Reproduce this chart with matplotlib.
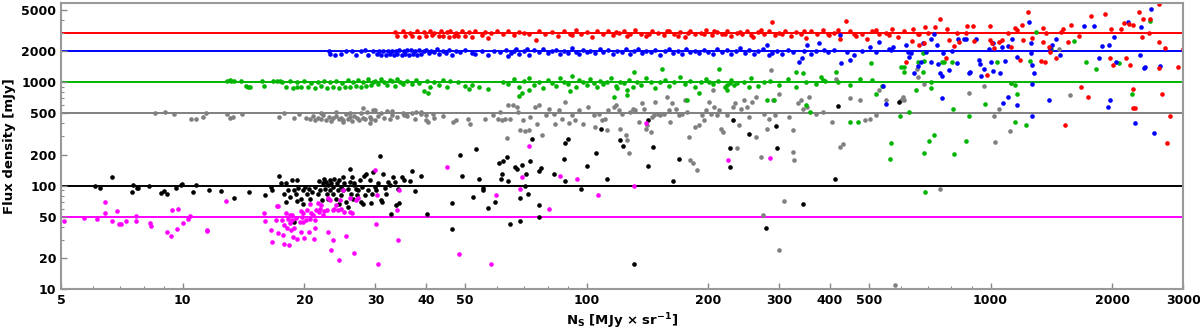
import matplotlib
matplotlib.use('Agg')
import matplotlib.pyplot as plt
import numpy as np
from matplotlib.ticker import FixedLocator, NullFormatter, LogLocator

plt.rcParams['font.family'] = 'DejaVu Sans'
plt.rcParams['font.weight'] = 'bold'

# reference flux levels and colours
levels = [3000, 2000, 1000, 500, 100, 50]
colors = ['#ff0000', '#0000ff', '#00b400', '#808080', '#000000', '#ff00ff']

x_ticks = [5, 10, 20, 30, 40, 50, 100, 200, 300, 400, 500, 1000, 2000, 3000]
y_ticks = [10, 20, 50, 100, 200, 500, 1000, 2000, 5000]

red_pts = [
    (33.5, 3050), (34, 2800), (35, 3100), (35.5, 2780), (36.5, 3000), (37, 2820), (38, 3120), (38.5, 2760),
    (39.5, 3050), (40, 2800), (41, 3150), (41.5, 2850), (42, 3000), (43, 2780), (43.5, 3100), (44, 2820),
    (45, 3050), (45.5, 2760), (46, 3150), (47, 2830), (47.5, 3000), (48, 2790), (49, 3100), (50, 2820),
    (51, 3050), (52, 2750), (53, 3150), (55, 2880), (56, 3050), (57, 2700), (58, 3000), (60, 3100),
    (62, 2950), (64, 3100), (66, 2850), (68, 3050), (70, 3000), (72, 2900), (75, 2550), (76, 3150),
    (79, 2950), (82, 3050), (85, 2800), (88, 3100), (91, 2950), (92, 2850), (94, 3200), (97, 2900),
    (100, 3050), (103, 2750), (106, 3100), (110, 2950), (113, 3150), (116, 2850), (118, 3050), (120, 3000),
    (124, 3100), (126, 2800), (128, 2900), (132, 3200), (136, 2950), (140, 2800), (143, 2950), (145, 3100),
    (150, 3000), (155, 2850), (158, 3100), (160, 3150), (165, 2950), (168, 2800), (170, 3050), (175, 2750),
    (178, 3000), (180, 3100), (186, 2900), (192, 3000), (195, 2900), (198, 3200), (204, 2850), (207, 3150),
    (210, 3050), (216, 2950), (220, 2950), (222, 3100), (228, 2800), (235, 3000), (240, 3050), (242, 2900),
    (250, 3150), (255, 2850), (258, 2750), (266, 3050), (270, 3200), (275, 2950), (283, 3100), (287, 3800),
    (292, 2850), (300, 3000), (305, 2950), (310, 3150), (320, 2800), (330, 3050), (340, 2900), (345, 3150),
    (350, 2700), (360, 3100), (372, 2950), (385, 3200), (395, 2950), (398, 2850), (410, 3000), (420, 3200),
    (425, 2650), (438, 3900), (450, 3100), (460, 2950), (465, 2800), (480, 2950), (495, 2600), (510, 3150),
    (520, 3200), (530, 2900), (550, 3000), (560, 2850), (570, 3300), (590, 2750), (610, 3100), (640, 2500),
    (665, 2900), (690, 3400),
    (643, 3305), (661, 2935), (667, 2300), (686, 2385), (618, 1585), (699, 2980), (729, 3455), (749, 4095),
    (782, 3305), (775, 1705), (789, 2565), (812, 2245), (828, 2980), (836, 2475), (868, 2980), (876, 3505),
    (906, 3505), (909, 2530), (980, 1178), (998, 2565), (998, 3530), (1018, 2165), (1008, 2385), (1048, 2475),
    (1067, 2565), (1104, 2980), (1125, 2215), (1150, 3325), (1161, 3205), (1183, 1645), (1194, 3585),
    (1205, 2565), (1236, 4755), (1264, 2665), (1333, 1620), (1349, 3325), (1349, 2475), (1362, 1585),
    (1375, 3020), (1393, 2215), (1402, 1980), (1455, 1705), (1497, 3090), (1511, 3255), (1525, 386),
    (1555, 2475), (1578, 3610), (1660, 2805), (1671, 894), (1742, 727), (1775, 4390), (1919, 4550),
    (1977, 1705), (1986, 3305), (2011, 1470), (2099, 3255), (2138, 3720), (2163, 1705), (2203, 3665),
    (2213, 1470), (2250, 3610), (2250, 855), (2250, 568), (2275, 560), (2328, 4755), (2372, 2725),
    (2388, 4095), (2466, 2980), (2489, 4095), (2606, 5730), (2606, 2435), (2710, 2165), (2606, 1385),
    (2655, 776), (2735, 257), (2786, 475), (2911, 1417), (2992, 2085),
]

blue_pts = [
    (23.0, 2020), (23.2, 1880), (23.8, 1850), (24.6, 1860), (25.4, 2000), (26.2, 2010), (26.8, 1850),
    (27.6, 1990), (28.3, 2030), (28.8, 1850), (29.5, 2000), (30.2, 1860), (30.6, 2010),
    (31.0, 1850), (31.4, 2000), (31.8, 1840), (32.2, 1990), (32.6, 1860), (33.0, 2020), (33.3, 1850),
    (33.7, 2000), (34.0, 1870), (34.4, 2050), (34.8, 1840), (35.2, 1990), (35.6, 1860), (36.0, 2030),
    (36.4, 1850), (36.8, 2070), (37.2, 1880), (37.6, 2000), (38.0, 1850), (38.5, 2050), (39.0, 1870),
    (39.5, 1990), (40.0, 2060), (40.6, 1900), (41.2, 2020), (41.8, 1950), (42.5, 2080), (43.2, 1880),
    (44.0, 2000), (44.8, 1930), (45.5, 2040),
    (46.5, 1850), (47.5, 2000), (48.5, 1980), (50, 2050), (52, 1900), (53, 1870), (55, 2020), (57, 1850),
    (59, 2000), (61, 1960), (63, 2050), (64, 1780), (65, 1920), (66, 2020), (67, 2080), (68, 1880),
    (70, 1990), (71, 2100), (72, 1850), (74, 2030), (76, 1950), (78, 2120), (80, 1900), (82, 2000),
    (84, 2060), (86, 1870), (88, 2010), (90, 1940), (92, 2150), (94, 1980), (96, 1880), (98, 2050),
    (100, 1950), (102, 2020), (105, 1900), (108, 2100), (110, 1970),
    (113, 2040), (116, 1880), (119, 2000), (122, 1950), (125, 2080), (128, 1860), (131, 2000), (134, 2120),
    (137, 1900), (140, 2020), (144, 1960), (148, 2050), (152, 1850), (156, 2000), (160, 2080), (164, 1920),
    (168, 2020), (172, 1870), (176, 2100), (180, 1960), (185, 2000), (190, 1900), (195, 2060), (200, 1980),
    (205, 1870), (210, 2120), (216, 1950), (222, 2030), (228, 1880), (234, 2000), (240, 2150), (246, 1920),
    (252, 2040), (259, 1860), (266, 2000), (273, 2080), (288, 1930), (296, 2010), (305, 1890), (315, 2050),
    (325, 1960), (345, 2000), (360, 1880), (370, 2000), (395, 1950), (410, 2030), (440, 1980), (460, 1850),
    (480, 2000), (520, 1950), (560, 2100),
    (280, 2286), (283, 1831), (336, 1577), (341, 1700), (351, 2286), (377, 2385), (388, 2074), (423, 2860),
    (427, 1521), (448, 1637), (502, 2203), (531, 2463), (550, 614), (542, 917), (568, 2046), (573, 2203),
    (616, 2300), (624, 1980), (636, 1905), (630, 1770), (648, 1222), (661, 1438), (673, 1585), (679, 2385),
    (692, 1980), (711, 2605), (711, 1585), (726, 2935), (739, 2300), (743, 1493), (749, 1240), (757, 1150),
    (763, 1905), (760, 710), (789, 1315), (805, 2010), (824, 1550), (832, 2605), (859, 2605), (868, 2605),
    (884, 1222), (892, 1268), (918, 2625), (935, 1645), (944, 1493), (949, 1150), (962, 1335), (989, 2085),
    (1004, 1585), (1012, 2418), (1012, 1297), (1057, 1240), (1067, 2215), (1071, 636), (1086, 1620),
    (1107, 727), (1107, 2245), (1132, 2605), (1161, 603), (1161, 1745), (1247, 3805), (1259, 1935),
    (1259, 2385), (1264, 1470), (1264, 962), (1268, 472), (1283, 1240), (1393, 675), (1402, 2085),
    (1416, 2300), (1455, 2605), (1483, 1835), (1708, 3530), (1800, 3530), (1858, 1735), (1888, 2245),
    (1950, 573), (1968, 2300), (1975, 675), (2023, 2765), (2042, 1585), (2193, 3865), (2276, 401),
    (2350, 1835), (2360, 3405), (2395, 1365), (2417, 1417), (2495, 5080), (2547, 321), (2622, 1438),
]

green_pts = [
    (12.9, 1038), (13.1, 1047), (13.2, 1038), (13.4, 1026), (13.9, 1026), (14.3, 916), (14.5, 900),
    (14.7, 908), (15.7, 1034), (15.9, 916), (16.7, 1026), (17.1, 1026), (17.4, 1026), (19.2, 908),
    (17.6, 1000), (18.0, 900), (18.4, 1020), (18.8, 890), (19.2, 1000), (19.6, 910), (20.0, 1030),
    (20.4, 900), (20.8, 990), (21.2, 880), (21.6, 1010), (22.0, 920), (22.4, 1040), (22.8, 890),
    (23.2, 1000), (23.6, 900), (24.0, 1020), (24.4, 880), (24.8, 990), (25.2, 910), (25.6, 1050),
    (26.0, 900), (26.4, 1000), (26.8, 920), (27.2, 1060), (27.6, 900), (28.0, 1010), (28.4, 930),
    (28.8, 1070), (29.2, 950), (29.6, 1000), (30.0, 1040), (30.5, 960), (31.0, 1080), (31.5, 1000),
    (32.0, 950), (32.5, 1050), (33.0, 1020), (33.5, 930), (34.0, 1080), (34.5, 1000), (35.0, 970),
    (36.0, 1040), (37.0, 960), (37.8, 1060), (38.5, 980), (39.5, 820), (40.2, 1030), (40.5, 780),
    (41, 910), (42, 1000), (43, 940), (44, 1060), (45, 900), (46, 1020), (48, 1000), (50, 930),
    (51, 870), (52, 950), (54, 900), (57, 870),
    (62, 1000), (64, 960), (66, 1080), (68, 900), (68, 730), (69, 780), (70, 1020), (72, 1100),
    (72, 840), (74, 950), (76, 1000), (78, 880), (80, 1050), (82, 990), (84, 920), (86, 1100),
    (88, 1000), (90, 960), (91, 826), (92, 1150), (94, 900), (96, 1050), (98, 1000), (100, 940),
    (102, 1080), (104, 980), (106, 900), (108, 1030), (110, 960), (112, 1000), (115, 1100), (118, 920),
    (121, 1010), (124, 980), (127, 1060), (130, 900), (133, 1000), (136, 950), (140, 1090), (144, 1010),
    (148, 880), (152, 1000), (156, 1050), (160, 930), (165, 1000), (170, 1120), (175, 970), (180, 1040),
    (186, 900), (192, 1000), (198, 1080), (205, 960), (212, 1020), (220, 900), (228, 1060), (236, 980),
    (245, 1000), (255, 1100), (265, 930), (275, 1000), (285, 1040), (300, 950), (315, 1080), (330, 900),
    (350, 1000), (370, 960), (390, 1020), (420, 1000), (450, 950),
    (117, 723), (119, 871), (126, 840), (126, 750), (131, 1262), (154, 1330), (177, 681), (190, 791),
    (201, 1010), (213, 1359), (223, 938), (222, 840), (227, 988), (232, 938), (252, 903), (280, 681),
    (291, 681), (330, 1262), (343, 1217), (349, 600), (357, 518), (380, 1113), (384, 1049), (415, 1262),
    (448, 414), (469, 414), (474, 1088), (507, 1521), (509, 1064), (521, 779), (539, 917), (565, 183),
    (568, 259), (601, 1413), (598, 474),
    (612, 1417), (610, 1268), (630, 520), (655, 842), (661, 1585), (679, 1905), (683, 1607), (679, 1268),
    (686, 206), (690, 86), (703, 272), (711, 1013), (711, 888), (726, 309), (760, 1585), (767, 1585),
    (805, 1585), (807, 547), (812, 201), (868, 268), (884, 472), (971, 617), (1037, 1560), (1125, 977),
    (1150, 942), (1161, 764), (1150, 410), (1222, 386), (1254, 1607), (1294, 3043), (1410, 2100),
    (1614, 2530), (1723, 1585), (1824, 1335), (2080, 1525), (2244, 776), (2489, 3945),
]

gray_pts = [
    (8.53, 506), (9.05, 517), (9.5, 499), (10.5, 446), (10.8, 446), (11.2, 462), (11.4, 506), (12.9, 499),
    (13.1, 456), (13.3, 462), (14.0, 491), (17.3, 462), (17.8, 506), (18.9, 456), (19.4, 499),
    (20.2, 455), (20.6, 440), (21, 470), (21.3, 430), (21.6, 455), (22, 445), (22.3, 480), (22.6, 435),
    (23, 460), (23.3, 425), (23.6, 450), (24, 470), (24.3, 440), (24.6, 455), (25, 430), (25.3, 490),
    (25.6, 445), (26, 460), (26.3, 420), (26.6, 475), (27, 450), (27.3, 435), (27.6, 500), (28, 455),
    (28.3, 440), (28.6, 520), (29, 465), (29.3, 445), (29.6, 540), (30, 430), (30.5, 470), (31, 500),
    (31.5, 450), (32, 530), (32.5, 440), (33, 485), (34, 460), (35, 510), (36, 470), (37.5, 440),
    (39, 520), (40, 480), (42, 450), (22, 510), (24, 520), (26, 505), (28, 560), (30, 545), (33, 530),
    (25, 410), (29, 400),
    (35.2, 481), (35.7, 499), (36.9, 506), (37.8, 518), (39.0, 499), (40.1, 430), (40.5, 414), (41.7, 499),
    (44.1, 470), (46.8, 414), (47.6, 430), (50.9, 446), (51.4, 399), (56.0, 437), (58.7, 481), (60.4, 437),
    (61.0, 518), (61.6, 430), (62.8, 437), (63.4, 292), (64.0, 601), (64.6, 446), (65.9, 601), (67.1, 578),
    (67.7, 518), (68.4, 349), (69.7, 430), (70.4, 339), (72.0, 349), (72.4, 463), (74.5, 578), (75.3, 393),
    (76.0, 601), (77.4, 307), (79.2, 481), (80.5, 557), (82.8, 499), (83.6, 399), (85.2, 537), (86.9, 446),
    (88.5, 647), (90.2, 405), (91.9, 481), (93.7, 430), (95.5, 537), (98.2, 399), (101, 578), (104, 481),
    (105, 371), (107, 499), (109, 430),
    (111, 446), (112, 344), (113, 537), (117, 578), (118, 600), (120, 537), (121, 357), (122, 499),
    (125, 307), (126, 275), (127, 205), (128, 518), (130, 557), (132, 537), (135, 414), (137, 624),
    (139, 557), (140, 357), (141, 385), (144, 331), (145, 463), (147, 481), (148, 647), (150, 499),
    (152, 481), (155, 499), (158, 723), (160, 537), (161, 414), (163, 624), (166, 557), (169, 481),
    (172, 499), (175, 671), (177, 518), (179, 296), (180, 176), (183, 164), (186, 371), (188, 141),
    (190, 385), (193, 481), (195, 430), (197, 537), (201, 647), (203, 499), (205, 840), (207, 578),
    (210, 481), (213, 537), (215, 357), (217, 331), (222, 481), (230, 578), (233, 624), (236, 229),
    (238, 385), (241, 557), (245, 671), (249, 578), (252, 463), (257, 647), (262, 296), (263, 723),
    (270, 190), (273, 52), (275, 499), (280, 357), (283, 446), (286, 1309), (289, 671), (293, 481),
    (299, 779), (299, 24), (308, 71), (317, 463), (324, 344), (325, 212), (327, 176), (333, 624),
    (339, 671), (343, 557), (351, 578), (356, 723), (370, 499), (384, 518), (406, 414), (415, 1088),
    (423, 237), (431, 255), (448, 697), (474, 671), (488, 430), (502, 446), (521, 481), (531, 840),
    (550, 671), (581, 11), (601, 671),
    (607, 727), (610, 675), (661, 1132), (686, 955), (657, 1346), (750, 92), (884, 794), (962, 920),
    (1018, 472), (1028, 262), (1052, 547), (1124, 991), (1119, 340), (1476, 2085), (1570, 754),
]

black_pts = [
    (6.05, 100), (6.25, 95.7), (6.68, 120), (7.49, 86.9), (7.54, 102), (7.71, 95.1), (7.75, 95.1),
    (8.24, 99.4), (8.81, 85.6), (8.98, 88.9), (9.16, 83.7), (9.64, 95.7), (9.89, 102), (9.98, 104),
    (10.6, 86.9), (10.8, 101), (11.6, 91.6),
    (12.4, 88.9), (13.4, 76.6), (14.6, 86.9), (16.0, 80.7), (16.5, 97.3), (16.6, 91.7), (17.3, 124),
    (17.5, 105), (17.8, 83.8), (18.0, 106), (18.0, 69.6), (18.2, 90.2), (18.4, 77.8), (18.6, 113),
    (18.9, 90.2), (18.9, 44.6), (19.1, 83.8), (19.2, 113), (19.2, 70.6), (19.3, 95.8), (19.6, 74.9),
    (19.8, 90.2), (19.9, 67.0), (20.1, 97.3), (20.3, 83.8), (20.5, 93.7), (20.7, 74.9), (20.9, 86.9),
    (21.2, 97.3), (21.6, 83.8), (21.8, 111), (21.9, 90.2), (22.1, 72.2), (22.2, 105), (22.4, 115),
    (22.5, 93.7), (22.6, 109), (22.8, 83.8), (22.9, 101), (22.9, 74.9), (23.1, 113), (23.2, 90.2),
    (23.3, 105), (23.5, 97.3), (23.6, 83.8), (23.7, 117), (24.0, 74.9), (24.1, 105), (24.2, 90.2),
    (24.3, 67.0), (24.4, 113), (24.6, 80.7), (24.7, 97.3), (24.9, 122), (25.0, 90.2), (25.1, 105),
    (25.4, 69.6), (25.6, 93.7), (25.7, 62.2), (25.9, 109), (26.0, 146), (26.1, 83.8), (26.3, 122),
    (26.4, 74.9), (26.5, 101), (26.6, 105), (26.8, 93.7), (27.0, 80.7), (27.2, 90.2), (27.4, 113),
    (27.7, 69.6), (27.8, 97.3), (27.9, 67.0), (28.1, 123), (28.2, 80.7), (28.5, 131), (28.7, 90.2),
    (29.0, 113), (29.2, 68.5), (29.4, 83.8), (29.6, 136), (30.0, 97.3), (30.1, 90.2), (30.4, 107),
    (30.7, 193), (30.9, 72.2), (31.1, 69.6), (31.3, 131), (31.6, 95.1), (31.9, 83.8), (32.2, 109),
    (32.5, 101), (32.8, 53.7), (33.1, 120), (33.5, 109), (33.8, 64.6), (34.1, 93.7), (34.4, 68.5),
    (34.8, 122), (35.4, 113), (36.5, 110), (37.0, 138), (37.5, 88.9), (39.0, 123), (40.3, 53.7),
    (46.5, 38.4), (46.5, 68.1), (48.5, 197), (49.0, 123), (52.2, 77.8), (53.1, 225), (54.1, 115),
    (55.5, 95.1), (55.5, 91.7), (57.1, 60.9), (59.3, 69.6), (60.8, 167), (61.2, 116), (61.8, 129),
    (62.2, 172), (63.4, 190), (63.8, 110), (64.5, 42.4), (66.5, 150), (67.1, 146), (68.4, 76.0),
    (68.4, 45.6), (69.3, 158), (70.4, 98.7), (70.7, 131), (71.5, 83.8), (72.3, 172), (73.2, 281),
    (76.0, 138), (76.3, 65.6), (77.1, 149), (76.0, 49.9), (82.8, 131), (87.7, 181), (88.2, 261),
    (88.2, 112), (89.9, 281), (97.0, 93.0), (100.2, 154), (105.5, 208), (108.6, 357),
    (112, 115), (121, 275), (123, 243), (131, 17.3), (142, 436), (142, 154), (146, 237), (164, 110),
    (169, 183), (226, 229), (226, 152), (230, 436), (252, 315), (294, 376), (296, 230), (278, 39),
    (344, 66), (412, 115), (418, 596), (595, 647),
]

magenta_pts = [
    (5.09, 45.9), (5.68, 49.1), (6.13, 47.6), (6.41, 69.0), (6.41, 54.9), (6.68, 45.9), (6.87, 56.9),
    (6.96, 42.9), (7.04, 42.3), (7.24, 45.2), (7.64, 50.5), (7.64, 45.6), (8.28, 43.9), (8.35, 41.1),
    (9.12, 35.6), (9.33, 32.6), (9.38, 58.6), (9.72, 59.9), (9.66, 38.4), (10.0, 43.6), (10.3, 47.3),
    (10.4, 50.5), (11.5, 36.2), (11.5, 37.0),
    (12.8, 71.1), (15.9, 54.5), (16.0, 45.5), (16.5, 37.6), (16.6, 28.5), (17.0, 46.3), (17.1, 63.2),
    (17.2, 34.9), (17.2, 63.2), (17.6, 46.3), (17.7, 33.1), (17.8, 27.5), (17.8, 41.4), (18.0, 54.5),
    (18.1, 39.3), (18.2, 48.0), (18.3, 26.5), (18.4, 43.5), (18.4, 51.7), (18.5, 37.0), (18.6, 46.3),
    (18.6, 51.7), (18.8, 31.9), (18.9, 39.3), (19.1, 49.1), (19.2, 30.7), (19.5, 44.6), (19.6, 56.9),
    (19.6, 35.6), (19.7, 49.8), (19.8, 44.6), (19.9, 54.5), (20.0, 31.4), (20.2, 46.3), (20.3, 57.8),
    (20.5, 35.6), (20.6, 48.0), (20.7, 67.0), (20.8, 54.5), (21.0, 51.7), (21.1, 30.7), (21.2, 39.3),
    (21.3, 46.3), (21.4, 57.8), (21.6, 68.0), (21.7, 55.7), (21.9, 60.0), (22.0, 64.6), (22.2, 51.7),
    (22.4, 56.9), (22.8, 57.8), (22.9, 35.6), (22.9, 76.1), (23.1, 72.2), (23.3, 24.0), (23.5, 57.8),
    (23.6, 30.1), (23.7, 60.0), (24.0, 64.6), (24.2, 57.8), (24.4, 19.2), (24.5, 72.2), (24.7, 60.0),
    (24.9, 90.2), (25.1, 55.7), (25.4, 32.4), (25.9, 55.7), (26.0, 76.1), (26.2, 54.5), (26.5, 22.5),
    (26.9, 72.2), (27.1, 76.6), (30.0, 143), (30.1, 42.3), (30.3, 80.7), (30.4, 17.3), (33.9, 57.8),
    (34.1, 29.6), (34.4, 90.2),
    (45.0, 150), (48.3, 21.7), (57.9, 17.5), (59.7, 80.8), (68.4, 92.3), (69.0, 120), (71.8, 241),
    (80.9, 59.2), (86.0, 123), (94.6, 116), (106.6, 80.8), (130.8, 98.7), (139.9, 408), (224, 176),
    (284, 186),
]

series = [
    (gray_pts, '#808080'),
    (green_pts, '#00b400'),
    (black_pts, '#000000'),
    (magenta_pts, '#ff00ff'),
    (blue_pts, '#0000ff'),
    (red_pts, '#ff0000'),
]

fig = plt.figure(figsize=(12, 3.3), dpi=100)
ax = fig.add_axes([0.051, 0.124, 0.935, 0.867])

for lev, c in zip(levels, colors):
    ax.axhline(lev, color=c, lw=1.4, zorder=1)

for pts, c in series:
    arr = np.array(pts)
    ax.scatter(arr[:, 0], arr[:, 1], s=11, color=c, linewidths=0, zorder=2)

ax.set_xscale('log')
ax.set_yscale('log')
ax.set_xlim(5, 3000)
ax.set_ylim(10, 5850)

ax.xaxis.set_major_locator(FixedLocator(x_ticks))
ax.set_xticklabels([str(t) for t in x_ticks])
ax.xaxis.set_minor_locator(LogLocator(base=10, subs=np.arange(2, 10)))
ax.xaxis.set_minor_formatter(NullFormatter())
ax.yaxis.set_major_locator(FixedLocator(y_ticks))
ax.set_yticklabels([str(t) for t in y_ticks])
ax.yaxis.set_minor_locator(LogLocator(base=10, subs=np.arange(2, 10)))
ax.yaxis.set_minor_formatter(NullFormatter())

ax.tick_params(which='both', direction='in', color='#888888', labelsize=9)
ax.tick_params(which='major', length=4, width=1)
ax.tick_params(which='minor', length=2, width=0.8)
for lab in ax.get_xticklabels() + ax.get_yticklabels():
    lab.set_fontweight('bold')

for sp in ax.spines.values():
    sp.set_color('#999999')
    sp.set_linewidth(1.5)

ax.set_xlabel(r'N$_\mathregular{S}$ [MJy $\times$ sr$^{\mathbf{-1}}$]', fontsize=9.5, fontweight='bold', labelpad=3)
ax.set_ylabel('Flux density [mJy]', fontsize=9.5, fontweight='bold', labelpad=4)

fig.savefig('out.png', dpi=100)
